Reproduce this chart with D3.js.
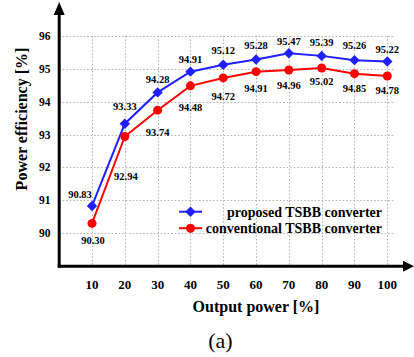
<!DOCTYPE html>
<html>
<head>
<meta charset="utf-8">
<script src="https://cdn.jsdelivr.net/npm/d3@7"></script>
<style>
  body { margin: 0; background: #fff; }
</style>
</head>
<body>
<script>
// data
var outputPower = [10, 20, 30, 40, 50, 60, 70, 80, 90, 100];
var proposed = [90.83, 93.33, 94.28, 94.91, 95.12, 95.28, 95.47, 95.39, 95.26, 95.22];
var conventional = [90.30, 92.94, 93.74, 94.48, 94.72, 94.91, 94.96, 95.02, 94.85, 94.78];
var xTicks = [10, 20, 30, 40, 50, 60, 70, 80, 90, 100];
var yTicks = [90, 91, 92, 93, 94, 95, 96];
var seriesNames = ["proposed TSBB converter", "conventional TSBB converter"];

var width = 414, height = 357;
var svg = d3.select("body").append("svg")
  .attr("width", width)
  .attr("height", height)
  .attr("font-family", "Liberation Serif");

var x = d3.scaleLinear().domain([0, 100]).range([59.2, 387.3]);
var y = d3.scaleLinear().domain([89, 96]).range([266.2, 35.8]);

// grid
var grid = svg.append("g")
  .attr("stroke", "#b0b0b0")
  .attr("stroke-width", 1)
  .attr("stroke-dasharray", "1.5,2");
grid.selectAll("line.h")
  .data(yTicks)
  .enter().append("line")
  .attr("x1", x(0)).attr("x2", x(102))
  .attr("y1", function(d) { return Math.round(y(d)) + 0.5; })
  .attr("y2", function(d) { return Math.round(y(d)) + 0.5; });
grid.selectAll("line.v")
  .data(xTicks)
  .enter().append("line")
  .attr("x1", function(d) { return Math.round(x(d)) + 0.5; })
  .attr("x2", function(d) { return Math.round(x(d)) + 0.5; })
  .attr("y1", y(96)).attr("y2", y(89));

// axes with arrows
svg.append("line")
  .attr("x1", x(0)).attr("x2", x(0))
  .attr("y1", y(89) + 1.5).attr("y2", 12)
  .attr("stroke", "#000").attr("stroke-width", 3);
svg.append("path")
  .attr("d", "M" + (x(0) - 5.5) + ",15 L" + x(0) + ",2 L" + (x(0) + 5.5) + ",15 Z")
  .attr("fill", "#000");
svg.append("line")
  .attr("x1", x(0) - 1.5).attr("x2", 406)
  .attr("y1", y(89)).attr("y2", y(89))
  .attr("stroke", "#000").attr("stroke-width", 3);
svg.append("path")
  .attr("d", "M403," + (y(89) - 5.5) + " L414," + y(89) + " L403," + (y(89) + 5.5) + " Z")
  .attr("fill", "#000");

// tick labels
svg.selectAll("text.xt")
  .data(xTicks)
  .enter().append("text")
  .attr("x", function(d) { return x(d); })
  .attr("y", 289)
  .attr("text-anchor", "middle")
  .attr("font-size", 13)
  .attr("font-weight", "bold")
  .text(function(d) { return d; });
svg.selectAll("text.yt")
  .data(yTicks)
  .enter().append("text")
  .attr("x", 50.5)
  .attr("y", function(d) { return y(d) + 4; })
  .attr("text-anchor", "end")
  .attr("font-size", 11.5)
  .attr("font-weight", "bold")
  .text(function(d) { return d; });

// axis titles
svg.append("text")
  .attr("x", 256)
  .attr("y", 312)
  .attr("text-anchor", "middle")
  .attr("font-size", 16)
  .attr("font-weight", "bold")
  .text("Output power [%]");
svg.append("text")
  .attr("transform", "translate(27,119) rotate(-90)")
  .attr("text-anchor", "middle")
  .attr("font-size", 16)
  .attr("font-weight", "bold")
  .text("Power efficiency [%]");
svg.append("text")
  .attr("x", 220.5)
  .attr("y", 348)
  .attr("text-anchor", "middle")
  .attr("font-size", 22)
  .text("(a)");

// lines
var line = d3.line()
  .x(function(d) { return x(d[0]); })
  .y(function(d) { return y(d[1]); });
var blueData = d3.zip(outputPower, proposed);
var redData = d3.zip(outputPower, conventional);

svg.append("path")
  .datum(redData)
  .attr("d", line)
  .attr("fill", "none")
  .attr("stroke", "#ff0000")
  .attr("stroke-width", 2);
svg.append("path")
  .datum(blueData)
  .attr("d", line)
  .attr("fill", "none")
  .attr("stroke", "#1f1fff")
  .attr("stroke-width", 2);

// diamond = square turned 45 degrees
var diamond = d3.symbol().type(d3.symbolSquare).size(54);
svg.selectAll("circle.red")
  .data(redData)
  .enter().append("circle")
  .attr("cx", function(d) { return x(d[0]); })
  .attr("cy", function(d) { return y(d[1]); })
  .attr("r", 4.5)
  .attr("fill", "#ff0000");
svg.selectAll("path.blue")
  .data(blueData)
  .enter().append("path")
  .attr("d", diamond)
  .attr("transform", function(d) { return "translate(" + x(d[0]) + "," + y(d[1]) + ") rotate(45)"; })
  .attr("fill", "#1f1fff");

// value labels (offsets from the marker, as placed in the figure)
var blueDx = [-12, 0, 0, 0, 0, 0, 0, 0, 0, 0];
var blueDy = [-12, -17.5, -13, -12.7, -14.3, -14.3, -12.3, -13.7, -14.7, -12.3];
var redDx = [1, 1, 0, 0, 0, 0, 0, 0, 0, 0];
var redDy = [17, 40, 22, 21, 18, 16.7, 15, 13.5, 15, 14];

svg.selectAll("text.bl")
  .data(blueData)
  .enter().append("text")
  .attr("x", function(d, i) { return x(d[0]) + blueDx[i]; })
  .attr("y", function(d, i) { return y(d[1]) + blueDy[i] + 3.8; })
  .attr("text-anchor", "middle")
  .attr("font-size", 10.5)
  .attr("font-weight", "bold")
  .text(function(d) { return d[1].toFixed(2); });
svg.selectAll("text.rl")
  .data(redData)
  .enter().append("text")
  .attr("x", function(d, i) { return x(d[0]) + redDx[i]; })
  .attr("y", function(d, i) { return y(d[1]) + redDy[i] + 3.8; })
  .attr("text-anchor", "middle")
  .attr("font-size", 10.5)
  .attr("font-weight", "bold")
  .text(function(d) { return d[1].toFixed(2); });

// legend
var legend = svg.append("g")
  .selectAll("g")
  .data(seriesNames)
  .enter().append("g")
  .attr("transform", function(d, i) { return "translate(0," + (211.7 + i * 16.5) + ")"; });
legend.append("line")
  .attr("x1", 179).attr("x2", 202)
  .attr("stroke", function(d, i) { return i == 0 ? "#1f1fff" : "#ff0000"; })
  .attr("stroke-width", 2);
legend.append("path")
  .attr("d", function(d, i) {
    return i == 0 ? diamond() : d3.symbol().type(d3.symbolCircle).size(64)();
  })
  .attr("transform", function(d, i) { return i == 0 ? "translate(190.5,0) rotate(45)" : "translate(190.5,0)"; })
  .attr("fill", function(d, i) { return i == 0 ? "#1f1fff" : "#ff0000"; });
legend.append("text")
  .attr("x", 382)
  .attr("y", 5)
  .attr("text-anchor", "end")
  .attr("font-size", 14)
  .attr("font-weight", "bold")
  .text(function(d) { return d; });
</script>
</body>
</html>
